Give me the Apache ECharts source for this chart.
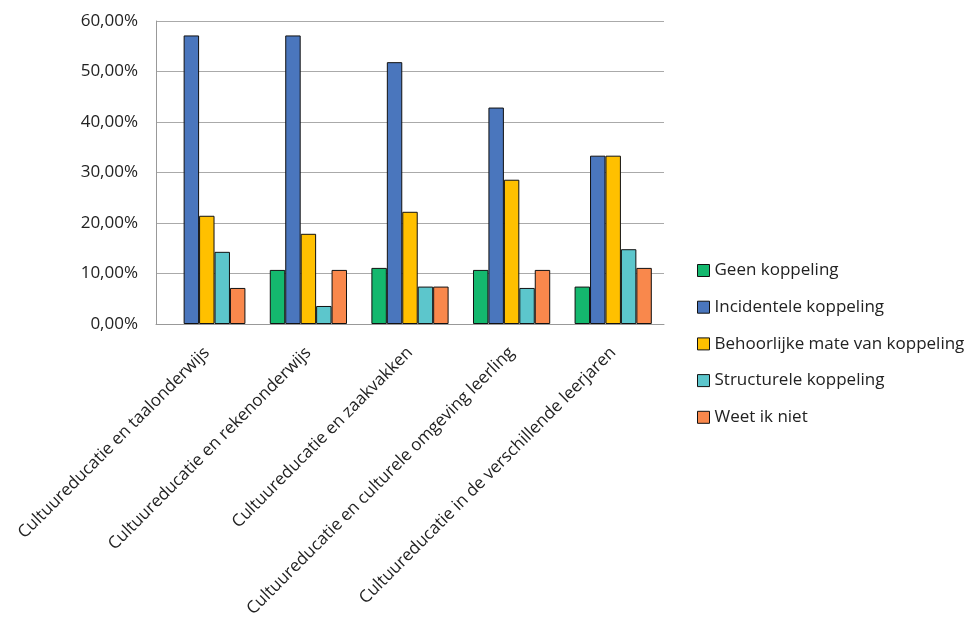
<!DOCTYPE html>
<html>
<head>
<meta charset="utf-8">
<script src="https://cdn.jsdelivr.net/npm/echarts@6/dist/echarts.min.js"></script>
<style>
html, body { margin: 0; padding: 0; background: #fff; }
#chart { width: 976px; height: 621px; }
</style>
</head>
<body>
<div id="chart"></div>
<script>
var categories = [
    'Cultuureducatie en taalonderwijs',
    'Cultuureducatie en rekenonderwijs',
    'Cultuureducatie en zaakvakken',
    'Cultuureducatie en culturele omgeving leerling',
    'Cultuureducatie in de verschillende leerjaren'
];
var seriesNames = [
    'Geen koppeling',
    'Incidentele koppeling',
    'Behoorlijke mate van koppeling',
    'Structurele koppeling',
    'Weet ik niet'
];
var geen = [0, 10.71, 11.11, 10.71, 7.41];
var incidenteel = [57.14, 57.14, 51.85, 42.86, 33.33];
var behoorlijk = [21.43, 17.86, 22.22, 28.57, 33.33];
var structureel = [14.29, 3.57, 7.41, 7.14, 14.81];
var weetNiet = [7.14, 10.71, 7.41, 10.71, 11.11];
var colors = ['#14b86e', '#4a76bd', '#ffc000', '#5cc6cc', '#f9884c'];

var font = '"Open Sans", sans-serif';
var allData = [geen, incidenteel, behoorlijk, structureel, weetNiet];

var myChart = echarts.init(document.getElementById('chart'));

var series = allData.map(function (d, i) {
    return {
        name: seriesNames[i],
        type: 'bar',
        // a zero bar draws no border, like the original
        data: d.map(function (v) {
            return v === 0 ? { value: v, itemStyle: { borderWidth: 0 } } : v;
        }),
        barGap: '0%',
        barCategoryGap: '24%',
        itemStyle: {
            color: colors[i],
            borderColor: '#111',
            borderWidth: 1
        }
    };
});

var option = {
    animation: false,
    color: colors,
    grid: {
        left: 156,
        right: 312,
        top: 21,
        bottom: 297,
        containLabel: false
    },
    legend: {
        orient: 'vertical',
        left: 692,
        top: 257,
        itemWidth: 12,
        itemHeight: 12,
        itemGap: 19.7,
        icon: 'rect',
        itemStyle: { borderColor: '#111', borderWidth: 1 },
        textStyle: { fontFamily: font, fontSize: 17, color: '#222' },
        data: seriesNames
    },
    xAxis: {
        type: 'category',
        data: categories,
        axisTick: { show: false },
        axisLine: { lineStyle: { color: '#999', width: 1 } },
        axisLabel: {
            rotate: 45,
            interval: 0,
            margin: 26,
            fontFamily: font,
            fontSize: 17,
            color: '#222'
        }
    },
    yAxis: {
        type: 'value',
        min: 0,
        max: 60,
        interval: 10,
        axisLine: { show: true, lineStyle: { color: '#999', width: 1 } },
        axisTick: { show: false },
        splitLine: { lineStyle: { color: '#aaa', width: 1 } },
        axisLabel: {
            margin: 18,
            fontFamily: font,
            fontSize: 17,
            color: '#222',
            formatter: function (v) {
                return v.toFixed(2).replace('.', ',') + '%';
            }
        }
    },
    series: series
};

myChart.setOption(option);
</script>
</body>
</html>
